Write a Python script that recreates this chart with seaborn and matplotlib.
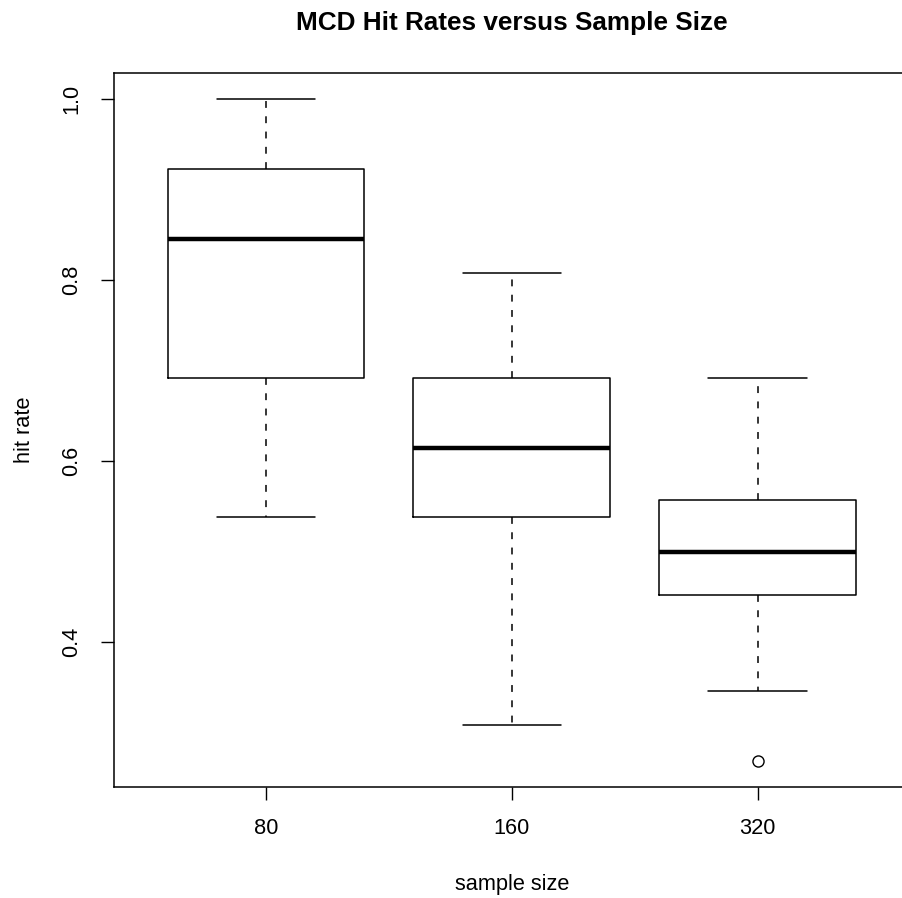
import numpy as np
import pandas as pd
import matplotlib
matplotlib.use("Agg")
import matplotlib.pyplot as plt
import seaborn as sns

# Data (five-number summaries + outlier)
sample_sizes = ["80", "160", "320"]
hits_80 = [0.538, 0.692, 0.846, 0.923, 1.000]
hits_160 = [0.308, 0.538, 0.615, 0.692, 0.808]
hits_320 = [0.269, 0.346, 0.452, 0.452, 0.500, 0.557, 0.557, 0.692, 0.692]
y_ticks = [0.4, 0.6, 0.8, 1.0]
y_tick_labels = ["0.4", "0.6", "0.8", "1.0"]

df = pd.DataFrame({
    "size": ["80"] * len(hits_80) + ["160"] * len(hits_160) + ["320"] * len(hits_320),
    "hit": hits_80 + hits_160 + hits_320,
})

sns.set_theme(style="white")
plt.rcParams["font.family"] = ["Liberation Sans", "DejaVu Sans"]

W, H = 902, 898
fig = plt.figure(figsize=(W / 100, H / 100), dpi=100)
left, right, top, bottom = 113.5, 910, 73, 787
ax = fig.add_axes([left / W, (H - bottom) / H, (right - left) / W, (bottom - top) / H])

lw = 1.1
sns.boxplot(
    data=df, x="size", y="hit", order=sample_sizes, ax=ax,
    fill=False, color="black", linecolor="black", width=0.8, whis=1.5,
    boxprops=dict(linewidth=lw, color="black"),
    medianprops=dict(linewidth=3.2, color="black", solid_capstyle="butt"),
    whiskerprops=dict(linewidth=lw, color="black", linestyle=(0, (4.5, 5.5))),
    capprops=dict(linewidth=lw, color="black"),
    flierprops=dict(marker="o", markerfacecolor="none", markeredgecolor="black",
                    markersize=8, markeredgewidth=1.0),
)

ax.set_xlim(-0.62, 2.62)
ax.set_ylim(0.2398, 1.0292)
ax.set_yticks(y_ticks)
ax.set_yticklabels(y_tick_labels, rotation=90, va="center")
ax.tick_params(axis="both", which="major", direction="out", length=9.5, width=1.0,
               color="black", labelsize=15.7, labelcolor="black", pad=13,
               left=True, bottom=True)
for s in ax.spines.values():
    s.set_visible(True)
    s.set_color("black")
    s.set_linewidth(1.1)

ax.set_xlabel("sample size", fontsize=15.7, color="black", labelpad=25)
ax.set_ylabel("hit rate", fontsize=15.7, color="black", labelpad=19)
ax.set_title("MCD Hit Rates versus Sample Size", fontsize=18.8, fontweight="bold",
             color="black", pad=31)

fig.savefig("out.png", dpi=100, facecolor="white")
